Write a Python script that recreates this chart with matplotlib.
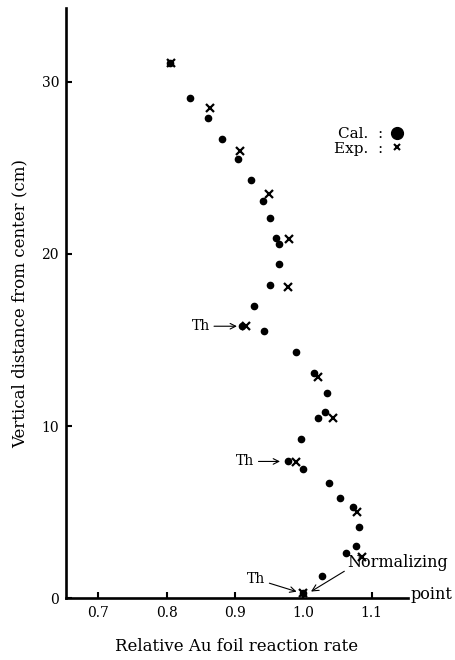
from typing import List
from matplotlib.axes import Axes
from matplotlib.figure import Figure
from matplotlib.lines import Line2D
import matplotlib.pyplot as plt

plt.rcParams["font.family"] = ["DejaVu Serif"]

# calculated Au foil reaction rate vs. height above core center
cal_rate: List[float] = [
    0.805, 0.835, 0.861, 0.881, 0.904, 0.923, 0.941, 0.952, 0.960, 0.965,
    0.965, 0.952, 0.928, 0.911, 0.942, 0.989, 1.016, 1.034, 1.032, 1.021,
    0.996, 0.978, 1.000, 1.037, 1.054, 1.073, 1.082, 1.077, 1.062, 1.028,
    1.000,
]
cal_height: List[float] = [
    31.1, 29.07, 27.9, 26.7, 25.5, 24.3, 23.1, 22.1, 20.9, 20.6,
    19.4, 18.2, 17.0, 15.8, 15.5, 14.3, 13.1, 11.9, 10.83, 10.45,
    9.22, 7.98, 7.5, 6.71, 5.81, 5.31, 4.15, 3.04, 2.6, 1.28,
    0.27,
]

# measured values
exp_rate: List[float] = [
    0.807, 0.864, 0.908, 0.950, 0.979, 0.978, 0.916, 1.022, 1.044, 0.989,
    1.078, 1.086, 1.000,
]
exp_height: List[float] = [
    31.1, 28.5, 26.0, 23.5, 20.85, 18.1, 15.8, 12.87, 10.45, 7.89,
    5.02, 2.4, 0.27,
]

x_ticks: List[float] = [0.7, 0.8, 0.9, 1.0, 1.1]
y_ticks: List[int] = [0, 10, 20, 30]

fig: Figure = plt.figure(figsize=(4.56, 6.6), dpi=100)
ax: Axes = fig.add_axes([0.1447, 0.0939, 0.75, 0.894])

ax.plot(cal_rate, cal_height, "o", color="black", markersize=4.5, clip_on=False)
ax.plot(exp_rate, exp_height, "x", color="black", markersize=5.5,
        markeredgewidth=1.6, clip_on=False)

ax.set_xlim(0.653, 1.153)
ax.set_ylim(0, 34.3)
ax.set_xticks(x_ticks)
ax.set_xticklabels([f"{t:.1f}" for t in x_ticks])
ax.set_yticks(y_ticks)

for side in ("top", "right"):
    ax.spines[side].set_visible(False)
for side in ("left", "bottom"):
    ax.spines[side].set_linewidth(1.9)

ax.tick_params(direction="in", length=4.5, width=1.5, labelsize=10)
ax.tick_params(axis="x", pad=6)
ax.tick_params(axis="y", pad=5)

ax.set_xlabel("Relative Au foil reaction rate", fontsize=12, labelpad=13)
ax.set_ylabel("Vertical distance from center (cm)", fontsize=12, labelpad=9)

# thermal-column ("Th") pointers
arrow = dict(arrowstyle="->", color="black", lw=0.8, shrinkA=1, shrinkB=3)
ax.annotate("Th", xy=(0.909, 15.8), xytext=(0.850, 15.8), ha="center",
            va="center", fontsize=10, arrowprops=arrow)
ax.annotate("Th", xy=(0.972, 7.94), xytext=(0.915, 7.94), ha="center",
            va="center", fontsize=10, arrowprops=arrow)
ax.annotate("Th", xy=(0.996, 0.3), xytext=(0.931, 1.1), ha="center",
            va="center", fontsize=10, arrowprops=arrow)

ax.annotate("Normalizing", xy=(1.006, 0.25), xytext=(1.064, 2.05),
            ha="left", va="center", fontsize=11.5, annotation_clip=False,
            arrowprops=dict(arrowstyle="->", color="black", lw=0.8,
                            shrinkA=0, shrinkB=3, relpos=(0.0, 0.1)))
ax.text(1.157, 0.2, "point", ha="left", va="center", fontsize=11.5,
        clip_on=False)

handles = [
    Line2D([], [], linestyle="none", marker="o", color="black", markersize=8.5),
    Line2D([], [], linestyle="none", marker="x", color="black", markersize=5,
           markeredgewidth=1.5),
]
fig.legend(handles=handles, labels=["Cal.  :", "Exp.  :"], markerfirst=False,
           frameon=False, loc="center left", bbox_to_anchor=(0.715, 0.786),
           fontsize=11, handlelength=0.9, handletextpad=0.5,
           labelspacing=0.05, borderpad=0)

fig.savefig("out.png", dpi=100)
